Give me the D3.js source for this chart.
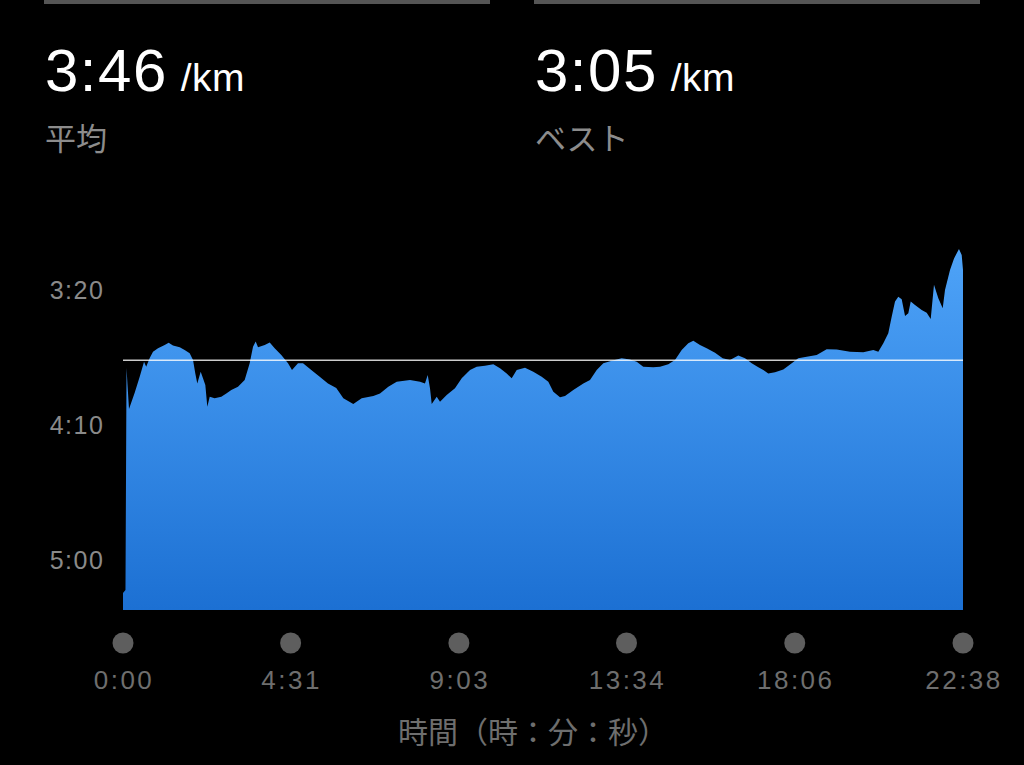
<!DOCTYPE html>
<html>
<head>
<meta charset="utf-8">
<script src="https://cdn.jsdelivr.net/npm/d3@7"></script>
<style>
	html, body { margin: 0; padding: 0; background: #000; }
	svg { display: block; }
</style>
</head>
<body>
<svg id="chart" width="1024" height="765"></svg>
<script>
// time in seconds since start, pace in seconds per km
var times = [0, 4, 5.7, 7.3, 9.7, 18.9, 27, 34, 37.5, 43.2, 48.5, 56.6, 67.4, 73.8, 80.8, 91.7, 99.7, 107.8,
	113.2, 116.9, 120.1, 125.6, 129.3, 133.1, 136.3, 140.2, 148.2, 158.9, 167, 175.1, 185.9, 196.7, 204.8,
	210.2, 214.5, 218.3, 229.1, 237.2, 245.2, 255.9, 266.8, 273.2, 282.9, 291, 304.4, 318, 331.4, 344.8,
	356.2, 372.3, 385.9, 404.7, 415.5, 428.9, 442.5, 464, 480.2, 488.2, 492.6, 496.3, 499.1, 507.2, 512.5,
	523.3, 536.7, 547.6, 561, 571.8, 585.2, 598.7, 609.5, 620.3, 628.4, 636.5, 649.9, 663.3, 676.9, 687.6,
	695.7, 706.5, 714.6, 728, 744.2, 755, 765.8, 776.5, 790.1, 806.2, 819.6, 830.5, 841.1, 857.3, 868.2,
	881.6, 892.4, 903.2, 913.9, 922, 932.8, 943.6, 957.1, 969.5, 981.3, 994.7, 1005.6, 1016.4, 1027.1,
	1035.2, 1043.2, 1054.1, 1067.5, 1081.1, 1091.7, 1105.3, 1121.5, 1137.6, 1153.8, 1175.3, 1196.8, 1213,
	1221.1, 1229.2, 1237.2, 1242.7, 1248.1, 1253.4, 1258.9, 1264.3, 1269.6, 1273.5, 1280.4, 1291.2, 1299.3,
	1305.8, 1311.1, 1318.1, 1325.2, 1328.9, 1337, 1343.5, 1351.5, 1355.9, 1358]
var paces = [312.2, 311.1, 228.9, 235.2, 244.1, 238.1, 232.1, 226.6, 228.4, 225.2, 222.9, 221.6, 220.4, 219.5,
	220.6, 221.2, 222.2, 223.4, 225.9, 230.9, 234.6, 230.3, 232.7, 235.2, 243.2, 239.5, 240.1, 239.5, 238.3,
	237.0, 235.8, 233.3, 227.1, 221.0, 219.1, 221.2, 220.4, 219.4, 221.6, 224.1, 227.1, 229.6, 227.1, 227.1,
	229.6, 232.1, 234.6, 236.3, 240.1, 242.2, 240.1, 239.3, 238.3, 235.8, 234.0, 233.3, 234.0, 234.6, 231.5,
	236.4, 242.2, 239.5, 241.4, 238.9, 236.4, 232.7, 229.6, 228.4, 228.1, 227.5, 229.0, 230.9, 232.7, 229.6,
	228.8, 230.3, 232.1, 234.0, 237.7, 239.7, 239.3, 237.0, 234.6, 233.3, 229.6, 227.1, 226.2, 225.3, 225.7,
	226.6, 228.4, 228.6, 228.4, 227.5, 225.9, 222.2, 219.7, 218.8, 220.4, 221.6, 223.2, 225.3, 225.9, 224.3,
	225.3, 227.1, 228.6, 229.6, 230.9, 230.5, 229.4, 227.1, 225.3, 224.7, 224.1, 221.9, 222.0, 222.9, 223.1,
	222.2, 222.9, 219.7, 216.0, 209.9, 204.3, 202.5, 203.4, 209.6, 208.6, 204.3, 205.6, 207.4, 208.4, 210.7,
	198.1, 203.1, 206.8, 200.0, 192.6, 188.3, 184.8, 187.0, 192.6]

var avgPace = 226   // 3:46
var bestPace = 185  // 3:05
var yTicks = [200, 250, 300]
var xTicks = [0, 271, 543, 814, 1086, 1358]
var xTickLabels = ['0:00', '4:31', '9:03', '13:34', '18:06', '22:38']
var headers = [
	{value: avgPace, label: '平均'},
	{value: bestPace, label: 'ベスト'}
]

const LATIN = '"Helvetica Neue", Helvetica, "Liberation Sans", Arial, sans-serif'
const CJK = '"Noto Sans CJK JP", "Noto Sans", sans-serif'

function fmtPace(s) {
	var m = Math.floor(s / 60), r = Math.round(s % 60);
	return m + ':' + (r < 10 ? '0' : '') + r;
}

var svg = d3.select('#chart')
var plotBottom = 610

var x = d3.scaleLinear().domain([0, 1358]).range([123, 963])
var y = d3.scaleLinear().domain([200, 300]).range([290, 560])

// header blocks
var head = svg.selectAll('g.head').data(headers).enter().append('g')
	.attr('class', 'head')
	.attr('transform', (d, i) => `translate(${45 + i * 490},0)`)
head.append('rect')
	.attr('x', -1).attr('y', 0).attr('width', 446).attr('height', 4)
	.attr('fill', '#555')
var big = head.append('text')
	.attr('x', 0).attr('y', 91)
	.attr('fill', '#fff')
	.style('font-family', LATIN)
big.append('tspan').style('font-size', '60px').style('letter-spacing', '1.5px').text(d => fmtPace(d.value))
big.append('tspan').attr('dx', 13).style('font-size', '39px').style('letter-spacing', '0.5px').text('/km')
head.append('text')
	.attr('x', 0).attr('y', 150)
	.attr('fill', '#8c8c8c')
	.style('font-family', CJK)
	.style('font-size', '31px')
	.text(d => d.label)

// area gradient
var grad = svg.append('defs').append('linearGradient')
	.attr('id', 'fillGrad')
	.attr('gradientUnits', 'userSpaceOnUse')
	.attr('x1', 0).attr('x2', 0).attr('y1', 250).attr('y2', plotBottom)
grad.append('stop').attr('offset', 0).attr('stop-color', '#4ea3f8')
grad.append('stop').attr('offset', 1).attr('stop-color', '#1c70d3')

var series = times.map((t, i) => ({t: t, p: paces[i]}))

var area = d3.area()
	.x(d => x(d.t))
	.y0(plotBottom)
	.y1(d => y(d.p))

svg.append('path')
	.datum(series)
	.attr('d', area)
	.attr('fill', 'url(#fillGrad)')

// average line
svg.append('line')
	.attr('x1', x(0)).attr('x2', x(1358))
	.attr('y1', y(avgPace)).attr('y2', y(avgPace))
	.attr('stroke', '#fff')
	.attr('stroke-opacity', 0.8)
	.attr('stroke-width', 1.5)

// y labels
svg.selectAll('text.ytick').data(yTicks).enter().append('text')
	.attr('class', 'ytick')
	.attr('x', 77).attr('y', d => y(d))
	.attr('text-anchor', 'middle')
	.attr('dominant-baseline', 'central')
	.attr('fill', '#8a8a8a')
	.style('font-family', LATIN)
	.style('font-size', '25px')
	.style('letter-spacing', '1.5px')
	.text(d => fmtPace(d))

// x ticks
var xt = svg.selectAll('g.xtick').data(xTicks).enter().append('g')
	.attr('class', 'xtick')
	.attr('transform', d => `translate(${x(d)},0)`)
xt.append('circle').attr('cy', 643).attr('r', 10.5).attr('fill', '#5e5e5e')
xt.append('text')
	.attr('x', 1)
	.attr('y', 689)
	.attr('text-anchor', 'middle')
	.attr('fill', '#6e6e6e')
	.style('font-family', LATIN)
	.style('font-size', '26px')
	.style('letter-spacing', '2.5px')
	.text((d, i) => xTickLabels[i])

svg.append('text')
	.attr('x', 533).attr('y', 743)
	.attr('text-anchor', 'middle')
	.attr('fill', '#6e6e6e')
	.style('font-family', CJK)
	.style('font-size', '30px')
	.text('時間（時：分：秒）')
</script>
</body>
</html>
